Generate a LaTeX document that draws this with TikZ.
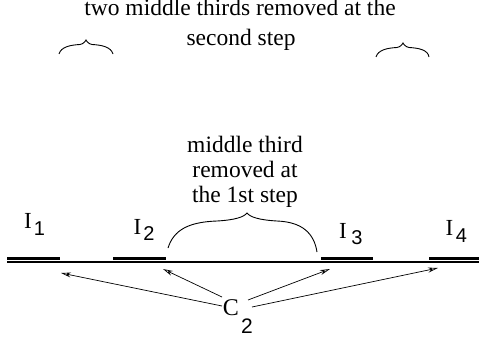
\documentclass[tikz,border=0pt]{standalone}
\usepackage{fontspec}
\setmainfont{Liberation Serif}
\newfontfamily\sansf{Liberation Sans}
\usetikzlibrary{arrows.meta}
\begin{document}
\begin{tikzpicture}[x=1pt,y=1pt,
  txt/.style={inner sep=0pt,anchor=base,font=\fontsize{23.5}{23.5}\selectfont},
  ilab/.style={inner sep=0pt,anchor=base,font=\fontsize{23}{23}\selectfont},
  isub/.style={inner sep=0pt,anchor=base,font=\sansf\fontsize{20}{20}\selectfont},
  seg/.style={line width=2.2pt},
  axis/.style={line width=1.1pt},
  arr/.style={line width=0.7pt,-{Stealth[open,length=10pt,width=5pt]}},
  brace/.style={line width=0.9pt}]
\useasboundingbox (0,0) rectangle (479,341);
% texts
\node[txt] (t1) at (240,325) {two middle thirds removed at the};
\node[txt] (t2) at (241,296) {second step};
\node[txt] (m1) at (245,189) {middle third};
\node[txt] (m2) at (245,164) {removed at};
\node[txt] (m3) at (245,139) {the 1st step};
% small braces
\draw[brace] (59,287) .. controls (61,294) and (70,296) .. (80,296.5) .. controls (84,297) and (86,301) .. (86,301)
  .. controls (86,301) and (88,297) .. (92,296.5) .. controls (102,296) and (111,294) .. (113,287);
\draw[brace] (376,284) .. controls (378,291) and (387,293) .. (397,293.5) .. controls (401,294) and (403,298) .. (403,298)
  .. controls (403,298) and (405,294) .. (409,293.5) .. controls (419,293) and (428,291) .. (429,284);
% middle brace
\draw[brace] (168,93) .. controls (174,112) and (190,119) .. (217,120) .. controls (235,121) and (244,124) .. (247,128)
  .. controls (250,124) and (259,121) .. (277,120) .. controls (302,119) and (314,108) .. (317,89);
% main line and segments
\coordinate (L) at (7,79);
\coordinate (R) at (479,79);
\draw[axis] (L) -- (R);
\coordinate (s1a) at (7,82.5);   \coordinate (s1b) at (60,82.5);
\coordinate (s2a) at (113,82.5); \coordinate (s2b) at (166,82.5);
\coordinate (s3a) at (321,82.5); \coordinate (s3b) at (373,82.5);
\coordinate (s4a) at (429,82.5); \coordinate (s4b) at (479,82.5);
\draw[seg] (s1a) -- (s1b);
\draw[seg] (s2a) -- (s2b);
\draw[seg] (s3a) -- (s3b);
\draw[seg] (s4a) -- (s4b);
% interval labels
\node[ilab] (I1) at (28,113) {I};  \node[isub] (n1) at (39.5,106) {1};
\node[ilab] (I2) at (137.5,107) {I};  \node[isub] (n2) at (149,101) {2};
\node[ilab] (I3) at (343,103) {I};  \node[isub] (n3) at (357,97) {3};
\node[ilab] (I4) at (449.5,106) {I}; \node[isub] (n4) at (461.5,99) {4};
% C2
\node[inner sep=0pt,anchor=base,font=\fontsize{24}{24}\selectfont] (C) at (231,26) {C};
\node[inner sep=0pt,anchor=base,font=\sansf\fontsize{21}{21}\selectfont] (c2) at (247,8) {2};
\coordinate (a1) at (222,35);
\coordinate (a2) at (222,44);
\coordinate (a3) at (248,41);
\coordinate (a4) at (252,34);
\coordinate (e1) at (61,68);
\coordinate (e2) at (163,72);
\coordinate (e3) at (330,72);
\coordinate (e4) at (438,73);
\draw[arr] (a1) -- (e1);
\draw[arr] (a2) -- (e2);
\draw[arr] (a3) -- (e3);
\draw[arr] (a4) -- (e4);
\end{tikzpicture}
\end{document}
